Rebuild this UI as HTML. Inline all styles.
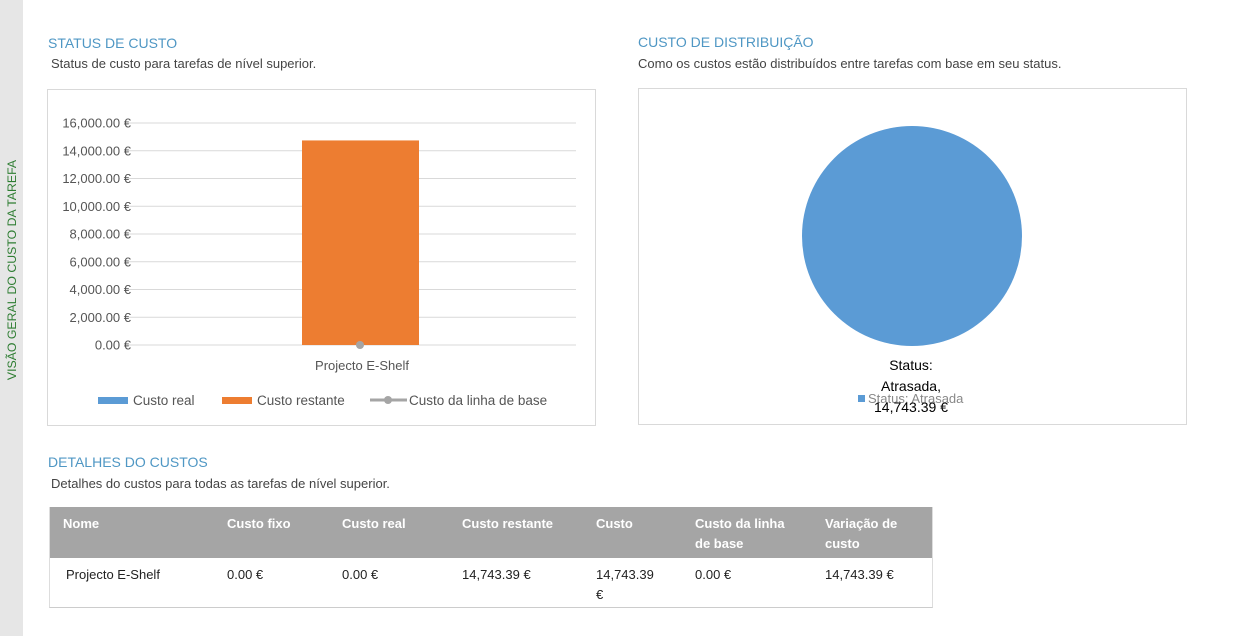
<!DOCTYPE html>
<html><head><meta charset="utf-8"><style>
body{margin:0;width:1233px;height:636px;background:#fff;font-family:"Liberation Sans",sans-serif;position:relative;overflow:hidden}
.a{position:absolute}
.h{color:#4f97c4;font-size:14px}
.s{color:#444;font-size:13px}
.nw{white-space:nowrap}
</style></head><body>
<div class="a" style="left:0;top:0;width:23px;height:636px;background:#e6e6e6"></div>
<div class="a" style="left:12px;top:270px;transform:translate(-50%,-50%) rotate(-90deg);white-space:nowrap;color:#2e7d32;font-size:12.3px">VISÃO GERAL DO CUSTO DA TAREFA</div>
<div class="a h" style="left:48px;top:35px">STATUS DE CUSTO</div>
<div class="a s" style="left:51px;top:56px">Status de custo para tarefas de nível superior.</div>
<div class="a h" style="left:638px;top:34px">CUSTO DE DISTRIBUIÇÃO</div>
<div class="a s" style="left:638px;top:56px">Como os custos estão distribuídos entre tarefas com base em seu status.</div>
<svg class="a" style="left:0;top:0" width="1233" height="636">
<rect x="47.5" y="89.5" width="548" height="336" fill="none" stroke="#d9d9d9"/>
<rect x="638.5" y="88.5" width="548" height="336" fill="none" stroke="#d9d9d9"/>
<g id="bc"></g>
<g id="pc"></g>
</svg>
<script>
const ticks=[0,2000,4000,6000,8000,10000,12000,14000,16000];
const cats=['Projecto E-Shelf'];
const custoReal=[0];
const custoRestante=[14743.39];
const custoBase=[0];
const pieLabels=['Status: Atrasada'];
const pieValues=[14743.39];
const NS='http://www.w3.org/2000/svg';
function mk(t,a,p){const e=document.createElementNS(NS,t);for(const k in a)e.setAttribute(k,a[k]);p.appendChild(e);return e;}
const y=v=>345-v*(345-123)/16000;
const x0=125, x1=595, bw=(x1-x0)/cats.length;
const bc=document.getElementById('bc');
ticks.forEach(t=>{
 const l=mk('line',{x1:125,x2:576,y1:y(t),y2:y(t),stroke:'#d9d9d9'},bc);
 
 
 const tx=mk('text',{x:131,y:y(t)+4.5,'text-anchor':'end','font-size':13,fill:'#555'},bc);
 tx.textContent=t.toLocaleString('en-US',{minimumFractionDigits:2})+' €';
 
 
});
cats.forEach((c,i)=>{
 const cx=x0+bw*(i+0.5);
 const r1=mk('rect',{x:cx-58,y:y(custoReal[i]),width:117,height:345-y(custoReal[i]),fill:'#5b9bd5'},bc);
 
 
 const r2=mk('rect',{x:cx-58,y:y(custoReal[i]+custoRestante[i]),width:117,height:y(custoReal[i])-y(custoReal[i]+custoRestante[i]),fill:'#ed7d31'},bc);
 
 
 const pt=mk('circle',{cx:cx,cy:y(custoBase[i]),r:4,fill:'#a5a5a5'},bc);
 
 
 const lb=mk('text',{x:cx+2,y:370,'text-anchor':'middle','font-size':13,fill:'#555'},bc);
 lb.textContent=c;
 
 
});
[[98,'#5b9bd5','Custo real',null],[222,'#ed7d31','Custo restante',null],[370,'#a5a5a5','Custo da linha de base',1]].forEach(d=>{
 const g=mk('g',{},bc);
 
 
 if(d[3]){mk('line',{x1:d[0],x2:d[0]+37,y1:400,y2:400,stroke:d[1],'stroke-width':3},g);mk('circle',{cx:d[0]+18,cy:400,r:4,fill:d[1]},g);}
 else mk('rect',{x:d[0],y:397,width:30,height:7,fill:d[1]},g);
 const t=mk('text',{x:d[0]+(d[3]?39:35),y:405,'font-size':13.5,fill:'#555'},g);t.textContent=d[2];
});
const pc=document.getElementById('pc');
const tot=pieValues.reduce((a,b)=>a+b,0);
let ang=-Math.PI/2;const cx=912,cy=236,R=110;
pieValues.forEach((v,i)=>{
 const a2=ang+v/tot*2*Math.PI;let s;
 if(v/tot>=0.9999){s=mk('circle',{cx:cx,cy:cy,r:R,fill:'#5b9bd5'},pc);}
 else{const lg=(a2-ang)>Math.PI?1:0;s=mk('path',{d:`M${cx},${cy}L${cx+R*Math.cos(ang)},${cy+R*Math.sin(ang)}A${R},${R} 0 ${lg} 1 ${cx+R*Math.cos(a2)},${cy+R*Math.sin(a2)}Z`,fill:'#5b9bd5'},pc);}
 
 
 ang=a2;
 const lg=mk('rect',{x:858,y:395,width:7,height:7,fill:'#5b9bd5'},pc);
 
 
 const lt=mk('text',{x:868,y:403,'font-size':13,fill:'#888'},pc);lt.textContent=pieLabels[i];
 
 
 const parts=pieLabels[i].split(' ');
 const lines=[parts[0],parts[1]+',',v.toLocaleString('en-US',{minimumFractionDigits:2})+' €'];
 lines.forEach((L,k)=>{const t=mk('text',{x:911,y:370+k*21,'text-anchor':'middle','font-size':14,fill:'#000'},pc);t.textContent=L;
 
 });
});
</script>
<div class="a h" style="left:48px;top:454px">DETALHES DO CUSTOS</div>
<div class="a s" style="left:51px;top:476px">Detalhes do custos para todas as tarefas de nível superior.</div>
<div class="a" style="left:49px;top:507px;width:882px;height:100px;border-bottom:1px solid #ccc;border-left:1px solid #ddd;border-right:1px solid #ddd">
<div class="a" style="left:0;top:0;width:882px;height:51px;background:#a5a5a5"></div>
<div style="position:absolute;left:0;top:0;color:#fff;font-weight:bold;font-size:13px;line-height:20px">
<div class="a nw" style="left:13px;top:7px">Nome</div>
<div class="a nw" style="left:177px;top:7px">Custo fixo</div>
<div class="a nw" style="left:292px;top:7px">Custo real</div>
<div class="a nw" style="left:412px;top:7px">Custo restante</div>
<div class="a nw" style="left:546px;top:7px">Custo</div>
<div class="a nw" style="left:645px;top:7px">Custo da linha<br>de base</div>
<div class="a nw" style="left:775px;top:7px">Variação de<br>custo</div>
</div>
<div style="position:absolute;left:0;top:0;color:#222;font-size:13px;line-height:20px">
<div class="a nw" style="left:16px;top:58px">Projecto E-Shelf</div>
<div class="a nw" style="left:177px;top:58px">0.00 €</div>
<div class="a nw" style="left:292px;top:58px">0.00 €</div>
<div class="a nw" style="left:412px;top:58px">14,743.39 €</div>
<div class="a nw" style="left:546px;top:58px">14,743.39<br>€</div>
<div class="a nw" style="left:645px;top:58px">0.00 €</div>
<div class="a nw" style="left:775px;top:58px">14,743.39 €</div>
</div>
</div>
</body></html>
